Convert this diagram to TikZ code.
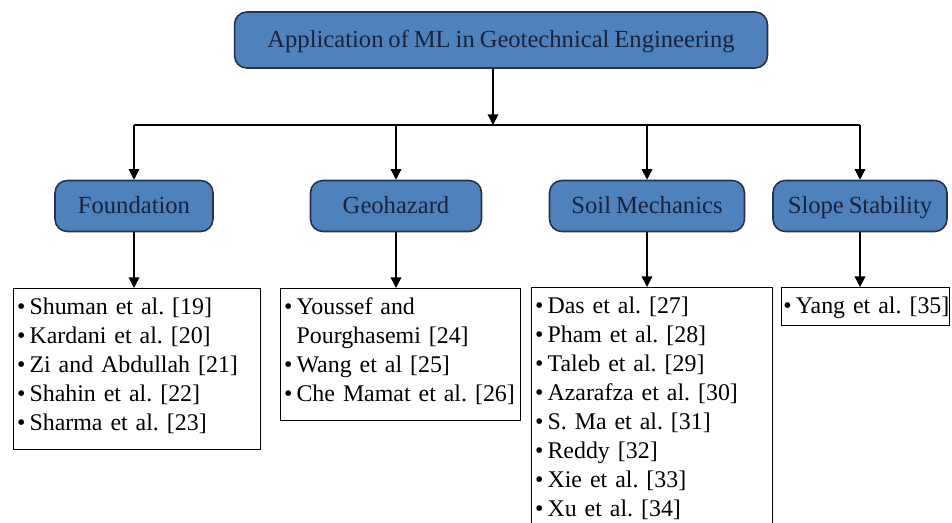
\documentclass[tikz,border=0pt]{standalone}
\usepackage{fontspec}
\setmainfont{Liberation Serif}[WordSpace=0.8]
\usetikzlibrary{positioning,arrows.meta}
\definecolor{boxblue}{RGB}{79,129,189}
\definecolor{boxedge}{RGB}{36,50,76}
\definecolor{boxtext}{RGB}{24,34,60}
\frenchspacing

\begin{document}
\begin{tikzpicture}[x=0.02cm,y=-0.02cm,
  topic/.style={draw=boxedge,fill=boxblue,rounded corners=7pt,line width=0.9pt,text=boxtext,text height=0.92em,text depth=0.06em,font=\fontsize{14}{16}\selectfont},
  refs/.style={draw,line width=0.8pt,anchor=north west,align=left,inner xsep=2pt,inner ysep=5pt,text depth=#1,font=\fontsize{13.6}{16.5}\selectfont},
  link/.style={line width=0.8pt,-{Triangle[width=6pt,length=6pt]}}]
\useasboundingbox (0,0) rectangle (952,522);
%----top----%
\node[topic,minimum width=10.66cm,minimum height=1.12cm] (ml) at (501,40) {Application of ML in Geotechnical Engineering};
\coordinate (split) at (493,125);
%----topics----%
\node[topic,minimum width=3.16cm,minimum height=1.02cm] (found) at (134,206) {Foundation};
\node[topic,minimum width=3.42cm,minimum height=1.02cm] (geo) at (396,206) {Geohazard};
\node[topic,minimum width=3.9cm,minimum height=1.02cm] (soil) at (647,206) {Soil Mechanics};
\node[topic,minimum width=3.48cm,minimum height=1.02cm] (slope) at (860,206) {Slope Stability};
%----references----%
\node[refs=72pt,text width=4.94cm-4pt] (foundrefs) at (13,288) {\textbullet\,Shuman et al. [19]\\ \textbullet\,Kardani et al. [20]\\ \textbullet\,Zi and Abdullah [21]\\ \textbullet\,Shahin et al. [22]\\ \textbullet\,Sharma et al. [23]};
\node[refs=55.5pt,text width=4.8cm-4pt] (georefs) at (280,288) {\textbullet\,Youssef and\\ \phantom{\textbullet\,}Pourghasemi [24]\\ \textbullet\,Wang et al [25]\\ \textbullet\,Che Mamat et al. [26]};
\node[refs=135pt,text width=4.82cm-4pt] (soilrefs) at (531,287) {\textbullet\,Das et al. [27]\\ \textbullet\,Pham et al. [28]\\ \textbullet\,Taleb et al. [29]\\ \textbullet\,Azarafza et al. [30]\\ \textbullet\,S. Ma et al. [31]\\ \textbullet\,Reddy [32]\\ \textbullet\,Xie et al. [33]\\ \textbullet\,Xu et al. [34]};
\node[refs=2pt,inner xsep=1pt,text width=3.36cm-2pt] (sloperefs) at (781,287) {\mbox{\textbullet\,Yang et al. [35]}};
%----arrows----%
\draw[link] (ml.south -| split) -- (split);
\draw[line width=0.8pt] (found.north |- split) -- (slope.north |- split);
\foreach \t in {found,geo,soil,slope}
  \draw[link] (\t.north |- split) -- (\t.north);
\draw[link] (found.south) -- (found.south |- foundrefs.north);
\draw[link] (geo.south) -- (geo.south |- georefs.north);
\draw[link] (soil.south) -- (soil.south |- soilrefs.north);
\draw[link] (slope.south) -- (slope.south |- sloperefs.north);
\end{tikzpicture}
\end{document}
